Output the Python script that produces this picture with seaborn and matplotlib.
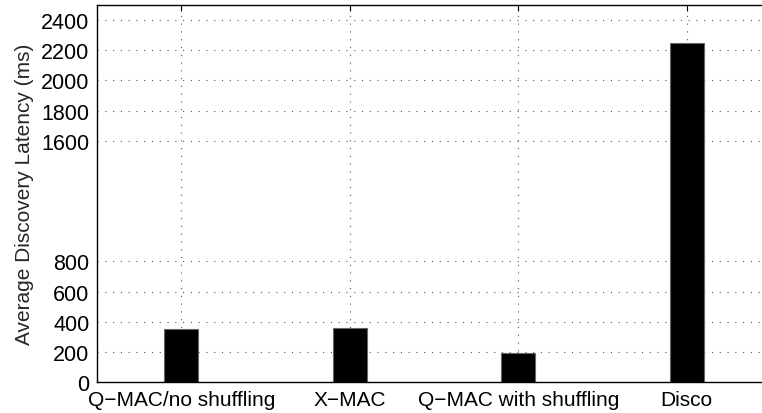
import matplotlib
matplotlib.use("Agg")
import matplotlib.pyplot as plt
import seaborn as sns
import pandas as pd

categories = ["Q\u2212MAC/no shuffling", "X\u2212MAC", "Q\u2212MAC with shuffling", "Disco"]
latency_ms = [351, 355, 192, 2251]
yticks = [0, 200, 400, 600, 800, 1600, 1800, 2000, 2200, 2400]

sns.set_theme(style="white")
plt.rcParams['font.family'] = ['Liberation Sans', 'DejaVu Sans']

df = pd.DataFrame({"cat": categories, "val": latency_ms})

fig = plt.figure(figsize=(7.62, 4.14), dpi=100)
W, H = 762, 414
left, right, top, bottom = 97, 771, 6, 383
ax = fig.add_axes([left / W, 1 - bottom / H, (right - left) / W, (bottom - top) / H])

sns.barplot(data=df, x="cat", y="val", color="black", width=0.2,
            edgecolor="#666666", linewidth=0.8, saturation=1, ax=ax)

ax.set_xlim(-0.5, 3.5)
ax.set_ylim(0, 2500)
ax.set_yticks(yticks)
ax.set_yticklabels([str(t) for t in yticks])
ax.set_xlabel("")
ax.set_ylabel("Average Discovery Latency (ms)", fontsize=15, labelpad=5)
ax.tick_params(axis="both", direction="in", length=4, width=0.8, colors="black",
               top=True, right=True)
ax.tick_params(axis="y", pad=5.5, labelsize=15.5)
ax.tick_params(axis="x", pad=6, labelsize=15)
ax.grid(True, linestyle=(0, (1, 6)), color="#555555", linewidth=0.8)
ax.set_axisbelow(True)
for s in ax.spines.values():
    s.set_color("black")
    s.set_linewidth(1.0)

fig.savefig("out.png", dpi=100)
